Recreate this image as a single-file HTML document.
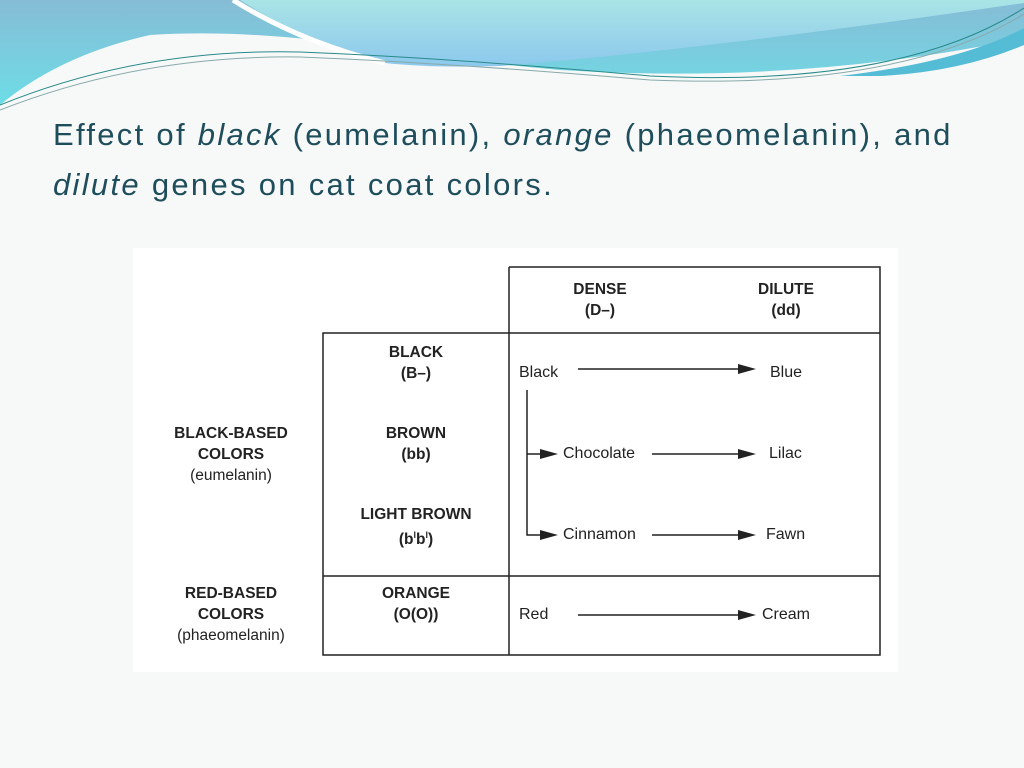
<!DOCTYPE html>
<html><head><meta charset="utf-8"><style>
body{margin:0;width:1024px;height:768px;background:#f7f8f8;position:relative;overflow:hidden;font-family:"Liberation Sans",sans-serif}
.t{position:absolute;left:53px;font-size:31px;letter-spacing:2.3px;color:#1e4d5c;line-height:50px;white-space:nowrap}
.p{position:absolute;left:133px;top:248px;width:765px;height:424px;background:#fff}
.l{position:absolute;font-size:16px;color:#222;white-space:nowrap}
.b{font-weight:bold;text-align:center;line-height:21px;font-size:15.5px}
</style></head><body>
<svg width="1024" height="120" style="position:absolute;left:0;top:0">
<defs>
<linearGradient id="g1" x1="0" y1="0" x2="0" y2="1"><stop offset="0" stop-color="#86bcd6"/><stop offset="1" stop-color="#6ddde6"/></linearGradient>
<linearGradient id="g2" x1="0" y1="0" x2="0" y2="1"><stop offset="0" stop-color="#a9e4e6"/><stop offset="1" stop-color="#8cc8ec"/></linearGradient>
</defs>
<path d="M0 0 H1024 V38 Q800 85 560 70 Q450 60 400 52 Q260 28 150 35 Q60 55 0 105 Z" fill="url(#g1)"/>
<path d="M240 0 Q310 45 385 63 Q430 68 500 66 Q700 50 1024 3 V0Z" fill="url(#g2)"/>
<path d="M233 0 Q300 42 385 63" stroke="#fff" stroke-width="5" fill="none"/>
<path d="M840 76 Q960 62 1024 28 V45 Q960 72 880 76Z" fill="#55bcd6"/>
<path d="M0 105 Q140 48 300 52 Q450 58 650 76 Q900 88 1024 8" stroke="#2a8a8a" stroke-width="1" fill="none"/>
<path d="M0 110 Q140 55 300 57 Q450 63 650 80 Q900 90 1024 14" stroke="#8aa" stroke-width="1" fill="none"/>
</svg>
<div class="t" style="top:110px">Effect of <i>black</i> (eumelanin), <i>orange</i> (phaeomelanin), and</div>
<div class="t" style="top:160px"><i>dilute</i> genes on cat coat colors.</div>
<div class="p"></div>
<svg width="1024" height="768" style="position:absolute;left:0;top:0">
<g stroke="#222" stroke-width="1.5" fill="none">
<path d="M509 267H880V655H323V333H880M509 267V655M323 576H880"/>
<path d="M578 369H740M652 454H740M652 535H740M578 615H740M527 390V535H542M527 454H542"/>
</g>
<g fill="#222">
<path d="M738 364L756 369L738 374Z"/><path d="M738 449L756 454L738 459Z"/><path d="M738 530L756 535L738 540Z"/><path d="M738 610L756 615L738 620Z"/>
<path d="M540 449L558 454L540 459Z"/><path d="M540 530L558 535L540 540Z"/>
</g>
</svg>
<div class="l b" style="left:540px;top:279px;width:120px">DENSE<br>(D–)</div>
<div class="l b" style="left:726px;top:279px;width:120px">DILUTE<br>(dd)</div>
<div class="l b" style="left:356px;top:342px;width:120px">BLACK<br>(B–)</div>
<div class="l b" style="left:356px;top:423px;width:120px">BROWN<br>(bb)</div>
<div class="l b" style="left:336px;top:504px;width:160px">LIGHT BROWN<br>(b<sup style="font-size:9px">l</sup>b<sup style="font-size:9px">l</sup>)</div>
<div class="l b" style="left:356px;top:583px;width:120px">ORANGE<br>(O(O))</div>
<div class="l b" style="left:161px;top:423px;width:140px">BLACK-BASED<br>COLORS<br><span style="font-weight:normal">(eumelanin)</span></div>
<div class="l b" style="left:161px;top:583px;width:140px">RED-BASED<br>COLORS<br><span style="font-weight:normal">(phaeomelanin)</span></div>
<div class="l" style="left:519px;top:364px">Black</div>
<div class="l" style="left:770px;top:364px">Blue</div>
<div class="l" style="left:563px;top:445px">Chocolate</div>
<div class="l" style="left:769px;top:445px">Lilac</div>
<div class="l" style="left:563px;top:526px">Cinnamon</div>
<div class="l" style="left:766px;top:526px">Fawn</div>
<div class="l" style="left:519px;top:606px">Red</div>
<div class="l" style="left:762px;top:606px">Cream</div>
</body></html>
